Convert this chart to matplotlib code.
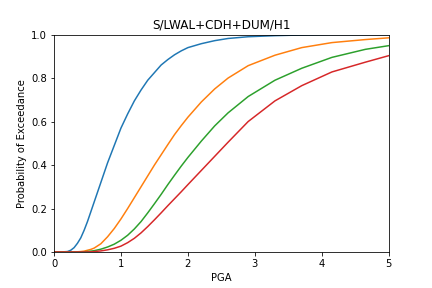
import matplotlib
matplotlib.use('Agg')
import matplotlib.pyplot as plt

pga = [0, 0.1, 0.2, 0.25, 0.3, 0.35, 0.4, 0.45, 0.5, 0.55, 0.6, 0.7, 0.8, 0.9,
       1.0, 1.1, 1.2, 1.3, 1.4, 1.5, 1.6, 1.7, 1.8, 1.9, 2.0, 2.2, 2.4, 2.6,
       2.9, 3.3, 3.7, 4.15, 4.65, 5.0]

slight = [0, 0, 0.002, 0.008, 0.02, 0.04, 0.065, 0.1, 0.14, 0.185, 0.23, 0.32,
          0.41, 0.49, 0.57, 0.635, 0.695, 0.745, 0.79, 0.825, 0.86, 0.885,
          0.907, 0.925, 0.94, 0.958, 0.972, 0.982, 0.99, 0.995, 0.998, 1.0,
          1.0, 1.0]
moderate = [0, 0, 0, 0, 0, 0.001, 0.002, 0.004, 0.008, 0.012, 0.018, 0.038,
            0.07, 0.108, 0.152, 0.2, 0.25, 0.3, 0.35, 0.4, 0.447, 0.494, 0.54,
            0.581, 0.62, 0.69, 0.75, 0.80, 0.857, 0.905, 0.94, 0.963, 0.977,
            0.985]
extensive = [0, 0, 0, 0, 0, 0, 0, 0.001, 0.002, 0.004, 0.006, 0.013, 0.023,
             0.036, 0.054, 0.077, 0.106, 0.14, 0.18, 0.222, 0.265, 0.31, 0.353,
             0.395, 0.435, 0.51, 0.58, 0.64, 0.715, 0.79, 0.845, 0.895, 0.932,
             0.949]
complete = [0, 0, 0, 0, 0, 0, 0, 0, 0, 0.001, 0.002, 0.005, 0.01, 0.017, 0.027,
            0.043, 0.063, 0.088, 0.117, 0.148, 0.18, 0.213, 0.245, 0.277, 0.31,
            0.375, 0.44, 0.505, 0.60, 0.695, 0.765, 0.828, 0.873, 0.903]

fig = plt.figure(figsize=(6, 4), dpi=72)
plt.subplots_adjust(left=0.125, right=0.9, top=0.88, bottom=0.125)

for s in [slight, moderate, extensive, complete]:
    plt.plot(pga, s)

plt.xlim(0, 5)
plt.ylim(0, 1)
plt.xlabel('PGA')
plt.ylabel('Probability of Exceedance')
plt.title('S/LWAL+CDH+DUM/H1')

plt.savefig('out.png', dpi=72)
